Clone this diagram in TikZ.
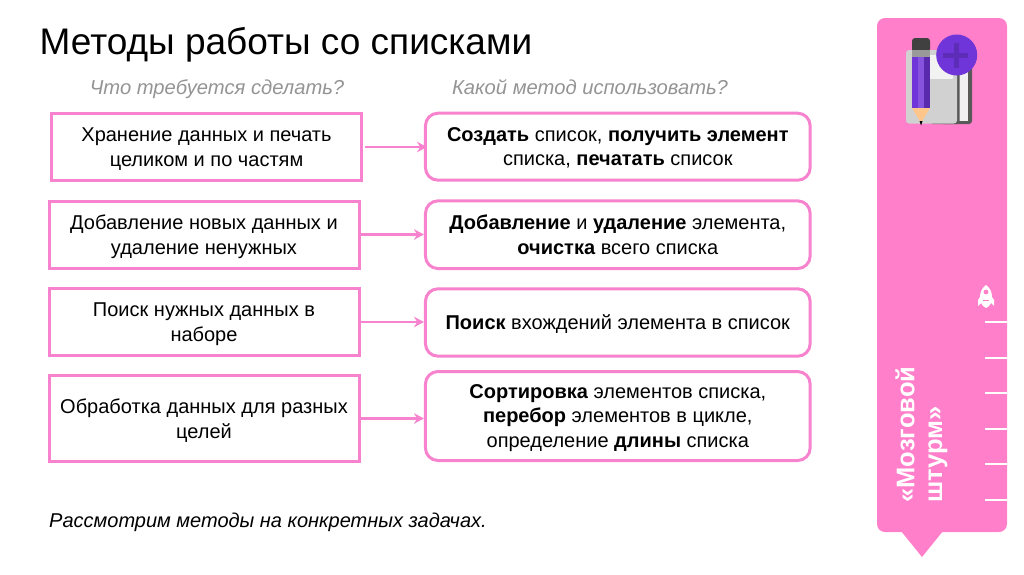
\documentclass[tikz,border=0pt]{standalone}
\usepackage{fontspec}
\setmainfont{Liberation Sans}
\usetikzlibrary{
    arrows.meta,
    calc
}
\definecolor{boxpink}{HTML}{F783CE}
\definecolor{panelpink}{HTML}{FF7FCB}
\definecolor{penviolet}{HTML}{6F35D8}
\tikzset{
    taskbox/.style={draw=boxpink,line width=3pt,fill=white,minimum width=310pt,align=center,font=\fontsize{20}{24.5}\selectfont,text depth=-1pt},
    methodbox/.style={draw=boxpink,line width=3pt,fill=white,rounded corners=12.5pt,minimum width=384.7pt,align=center,font=\fontsize{20}{24.5}\selectfont},
    link/.style={draw=boxpink,line width=2.8pt,-{Stealth[length=10pt,width=10.5pt]}},
    heading/.style={anchor=base,font=\fontsize{20.2}{24}\selectfont\itshape,text=black!42},
    tick/.style={draw=white,line width=1.6pt}
}

\begin{document}
\begin{tikzpicture}[x=1pt,y=-1pt]
\useasboundingbox (0,0) rectangle (1024,574);

% Title
\node[anchor=base west,font=\fontsize{37}{44}\selectfont] (title) at (36.2,54.6) {Методы работы со списками};

% Column headings
\node[heading] (askhead) at (217,94.5) {Что требуется сделать?};
\node[heading] (methodhead) at (590,94.5) {Какой метод использовать?};

% Tasks
\node[taskbox,minimum height=66.7pt] (store) at (206.5,147) {Хранение данных и печать\\целиком и по частям};
\node[taskbox,minimum height=67pt] (edit) at (204,234.5) {Добавление новых данных и\\удаление ненужных};
\node[taskbox,minimum height=66.4pt] (find) at (204,322) {Поиск нужных данных в\\наборе};
\node[taskbox,minimum height=85.3pt] (work) at (204,418.5) {Обработка данных для разных\\целей};

% Methods
\node[methodbox,text depth=-1pt,minimum height=67pt] (storem) at (617.8,146.7) {\textbf{Создать} список, \textbf{получить элемент}\\списка, \textbf{печатать} список};
\node[methodbox,text depth=0pt,minimum height=67.7pt] (editm) at (617.8,234.7) {\textbf{Добавление} и \textbf{удаление} элемента,\\\textbf{очистка} всего списка};
\node[methodbox,text depth=-4pt,minimum height=67.4pt] (findm) at (617.8,322.5) {\textbf{Поиск} вхождений элемента в список};
\node[methodbox,text depth=-3pt,minimum height=89pt] (workm) at (617.8,416) {\textbf{Сортировка} элементов списка,\\\textbf{перебор} элементов в цикле,\\определение \textbf{длины} списка};

% Arrows
\draw[link,shorten <=2pt,shorten >=-3pt] (store.east) -- (store.east -| storem.west);
\draw[link] (edit.east) -- (edit.east -| editm.west);
\draw[link] (find.east) -- (find.east -| findm.west);
\draw[link] (work.east) -- (work.east -| workm.west);

% Closing line
\node[anchor=base west,font=\fontsize{20}{24}\selectfont\itshape] (closing) at (45.7,527) {Рассмотрим методы на конкретных задачах.};

% Side panel
\fill[panelpink,rounded corners=8pt] (877,18) -- (1007,18) -- (1007,532) -- (877,532) -- cycle;
\fill[panelpink] (901,531) -- (943,531) -- (922,557) -- cycle;

% Scale marks
\foreach \y in {322,358,393,429,464,500}
    \draw[tick] (985,\y) -- (1007,\y);

% Rocket
\fill[white] (986,285) .. controls (990,288) and (992,292) .. (992,297) -- (994,300) -- (994,306) -- (991,303) -- (989,306) -- (986,308) -- (983,306) -- (981,303) -- (978,306) -- (978,300) -- (980,297) .. controls (980,292) and (982,288) .. (986,285) -- cycle;
\fill[panelpink] (986,292) circle (2.4);
\fill[panelpink] (983,300) rectangle (989,301);

% Panel caption
\node[rotate=90,anchor=west,font=\fontsize{25.5}{30}\selectfont,text=white] (capa) at (905,506) {\textbf{«Мозговой}};
\node[rotate=90,anchor=west,font=\fontsize{25.5}{30}\selectfont,text=white] (capb) at (938,506) {\textbf{штурм»}};

% Book
\fill[black!65,rounded corners=3pt] (940,56) rectangle (972,124);
\fill[black!6] (959,60) rectangle (968,121);
\fill[black!65,rounded corners=3pt] (930,52) rectangle (959.5,124);
\fill[black!18,rounded corners=3pt] (906,50) rectangle (957,123.5);
\fill[black!5] (930,55) rectangle (953,79);

% Pencil
\fill[black!75,rounded corners=3pt] (912,38) rectangle (930,52);
\fill[black!40] (912,50) rectangle (930,57);
\fill[penviolet] (912,57) rectangle (930,108);
\fill[penviolet!85!white] (918,57) rectangle (924,108);
\fill[penviolet!80!black] (924,57) rectangle (930,108);
\fill[orange!45!white] (912,108) -- (930,108) -- (921,123) -- cycle;
\fill[black] (919.5,121) -- (922.5,121) -- (921,125.5) -- cycle;

% Plus badge
\fill[penviolet] (956.7,55) circle (20.5);
\draw[penviolet!85!black,line width=5pt] (956.7,43) -- (956.7,68);
\draw[penviolet!85!black,line width=5pt] (943,55) -- (968,55);

\end{tikzpicture}
\end{document}
